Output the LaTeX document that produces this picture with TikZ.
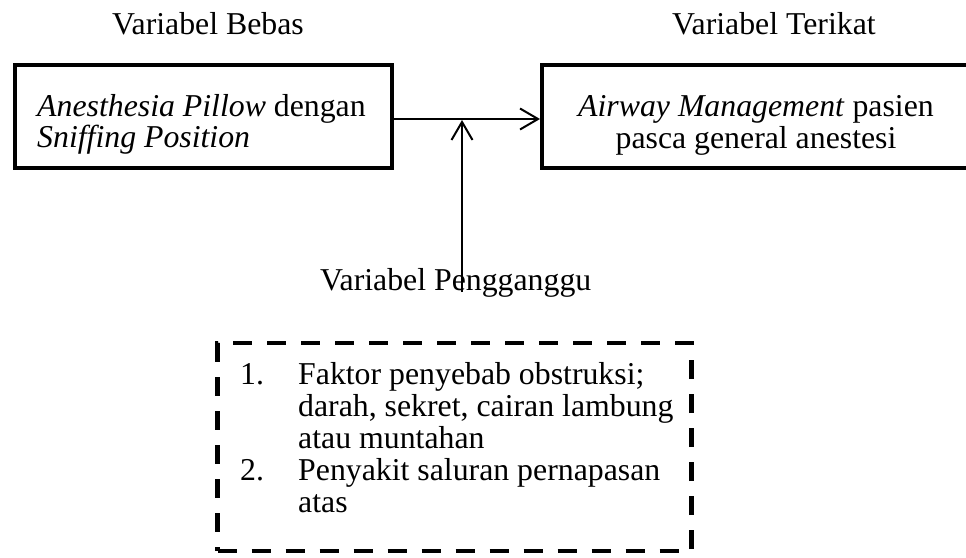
\documentclass[tikz,border=0pt]{standalone}
\usepackage{fontspec}
\setmainfont{Liberation Serif}
\usetikzlibrary{arrows.meta}
\tikzset{
  solidbox/.style={draw=black, line width=4pt, rectangle, inner sep=0pt},
  dashbox/.style={draw=black, line width=4.5pt, rectangle, inner sep=0pt, dash pattern=on 19pt off 15pt},
  txt/.style={inner sep=0pt, anchor=base west, font=\fontsize{31.8}{32}\selectfont},
  ctxt/.style={inner sep=0pt, anchor=base, font=\fontsize{31.8}{32}\selectfont},
  conn/.style={line width=2pt, -{Straight Barb[length=18pt, width=21pt, line width=2pt]}}
}
\begin{document}
\begin{tikzpicture}[x=1pt, y=-1pt]
\useasboundingbox (0,0) rectangle (966,557);
% titles
\node[txt] (tbebas) at (112,34) {Variabel Bebas};
\node[txt] (tterikat) at (672,34) {Variabel Terikat};
% boxes
\node[solidbox, minimum width=377pt, minimum height=103pt] (lb) at (203.5,116.5) {};
\node[solidbox, minimum width=428pt, minimum height=103pt] (rb) at (756,116.5) {};
\node[txt] (l1) at (37,116) {\textit{Anesthesia Pillow} dengan};
\node[txt] (l2) at (37,147) {\textit{Sniffing Position}};
\node[ctxt] (r1) at (756,116) {\textit{Airway Management} pasien};
\node[ctxt] (r2) at (756,148) {pasca general anestesi};
% main arrow
\draw[conn] ([yshift=-2.5pt]lb.east) -- ([yshift=-2.5pt]rb.west);
% confounding
\node[txt] (peng) at (320,290) {Variabel Pengganggu};
\coordinate (vb) at (462,292);
\coordinate (vt) at (462,120);
\draw[conn] (vb) -- (vt);
% dashed box
\node[dashbox, minimum width=474pt, minimum height=208pt] (db) at (454.5,447) {};
\node[txt] (n1) at (240,384) {1.};
\node[txt] (i1a) at (298,384) {Faktor penyebab obstruksi;};
\node[txt] (i1b) at (298,416) {darah, sekret, cairan lambung};
\node[txt] (i1c) at (298,448) {atau muntahan};
\node[txt] (n2) at (240,480) {2.};
\node[txt] (i2a) at (298,480) {Penyakit saluran pernapasan};
\node[txt] (i2b) at (298,512) {atas};
\end{tikzpicture}
\end{document}
